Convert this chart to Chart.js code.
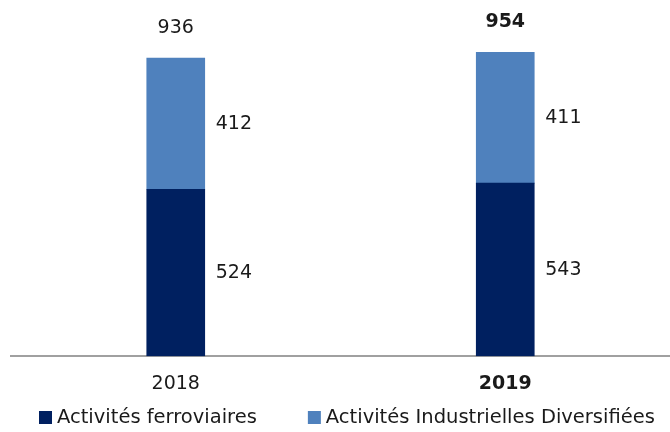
<!DOCTYPE html>
<html>
<head>
<meta charset="utf-8">
<script src="https://cdn.jsdelivr.net/npm/chart.js@4/dist/chart.umd.min.js"></script>
<style>
  html, body { margin: 0; padding: 0; background: #fff; }
  #wrap { width: 670px; height: 432px; position: relative; }
</style>
</head>
<body>
<div id="wrap"><canvas id="chart"></canvas></div>
<script>
// data
const years = ['2018', '2019'];
const ferroviaires = [524, 543];
const industrielles = [412, 411];
const totals = [936, 954];
const seriesNames = ['Activités ferroviaires', 'Activités Industrielles Diversifiées'];

const darkBlue = '#002060';
const lightBlue = '#4f81bd';
const fontFamily = '"DejaVu Sans", Verdana, sans-serif';

// labels next to segments + totals on top
const valueLabels = {
    id: 'valueLabels',
    afterDatasetsDraw(chart) {
        const ctx = chart.ctx;
        ctx.save();
        ctx.fillStyle = '#1a1a1a';
        ctx.textBaseline = 'middle';
        chart.data.datasets.forEach(function(ds, di) {
            const meta = chart.getDatasetMeta(di);
            meta.data.forEach(function(bar, i) {
                const mid = (bar.y + bar.base) / 2;
                ctx.font = '19px ' + fontFamily;
                ctx.textAlign = 'left';
                ctx.fillText(ds.data[i], bar.x + bar.width / 2 + 11, mid);
            });
        });
        const top = chart.getDatasetMeta(1);
        top.data.forEach(function(bar, i) {
            ctx.font = (i === 1 ? 'bold ' : '') + '19px ' + fontFamily;
            ctx.textAlign = 'center';
            ctx.fillText(totals[i], bar.x, bar.y - 30);
        });
        ctx.restore();
    }
};

// legend row at the bottom, wide gap between the two items
const bottomLegend = {
    id: 'bottomLegend',
    afterDraw(chart) {
        const ctx = chart.ctx;
        const y = 418;
        let x = 39;
        ctx.save();
        ctx.font = '19.5px ' + fontFamily;
        ctx.textBaseline = 'middle';
        ctx.textAlign = 'left';
        chart.data.datasets.forEach(function(ds) {
            ctx.fillStyle = ds.backgroundColor;
            ctx.fillRect(x, y - 7, 13, 13);
            ctx.fillStyle = '#1a1a1a';
            ctx.fillText(ds.label, x + 18, y);
            x += 18 + ctx.measureText(ds.label).width + 51;
        });
        ctx.restore();
    }
};

const ctx = document.getElementById('chart').getContext('2d');
const chart = new Chart(ctx, {
    type: 'bar',
    data: {
        labels: years,
        datasets: [{
            label: seriesNames[0],
            data: ferroviaires,
            backgroundColor: darkBlue,
            barThickness: 58
        }, {
            label: seriesNames[1],
            data: industrielles,
            backgroundColor: lightBlue,
            barThickness: 58
        }]
    },
    options: {
        responsive: true,
        maintainAspectRatio: false,
        animation: false,
        layout: {
            padding: { left: 11, right: 0, top: 0, bottom: 21 }
        },
        scales: {
            x: {
                stacked: true,
                grid: { display: false, drawTicks: false },
                border: { display: true, color: '#a0a0a0', width: 2 },
                ticks: {
                    color: '#1a1a1a',
                    padding: 16,
                    font: function(c) {
                        return { family: fontFamily, size: 19, weight: c.index === 1 ? 'bold' : 'normal' };
                    }
                }
            },
            y: {
                stacked: true,
                display: false,
                min: 0,
                max: 1118
            }
        },
        plugins: {
            legend: { display: false },
            tooltip: { enabled: false }
        }
    },
    plugins: [valueLabels, bottomLegend]
});
</script>
</body>
</html>
